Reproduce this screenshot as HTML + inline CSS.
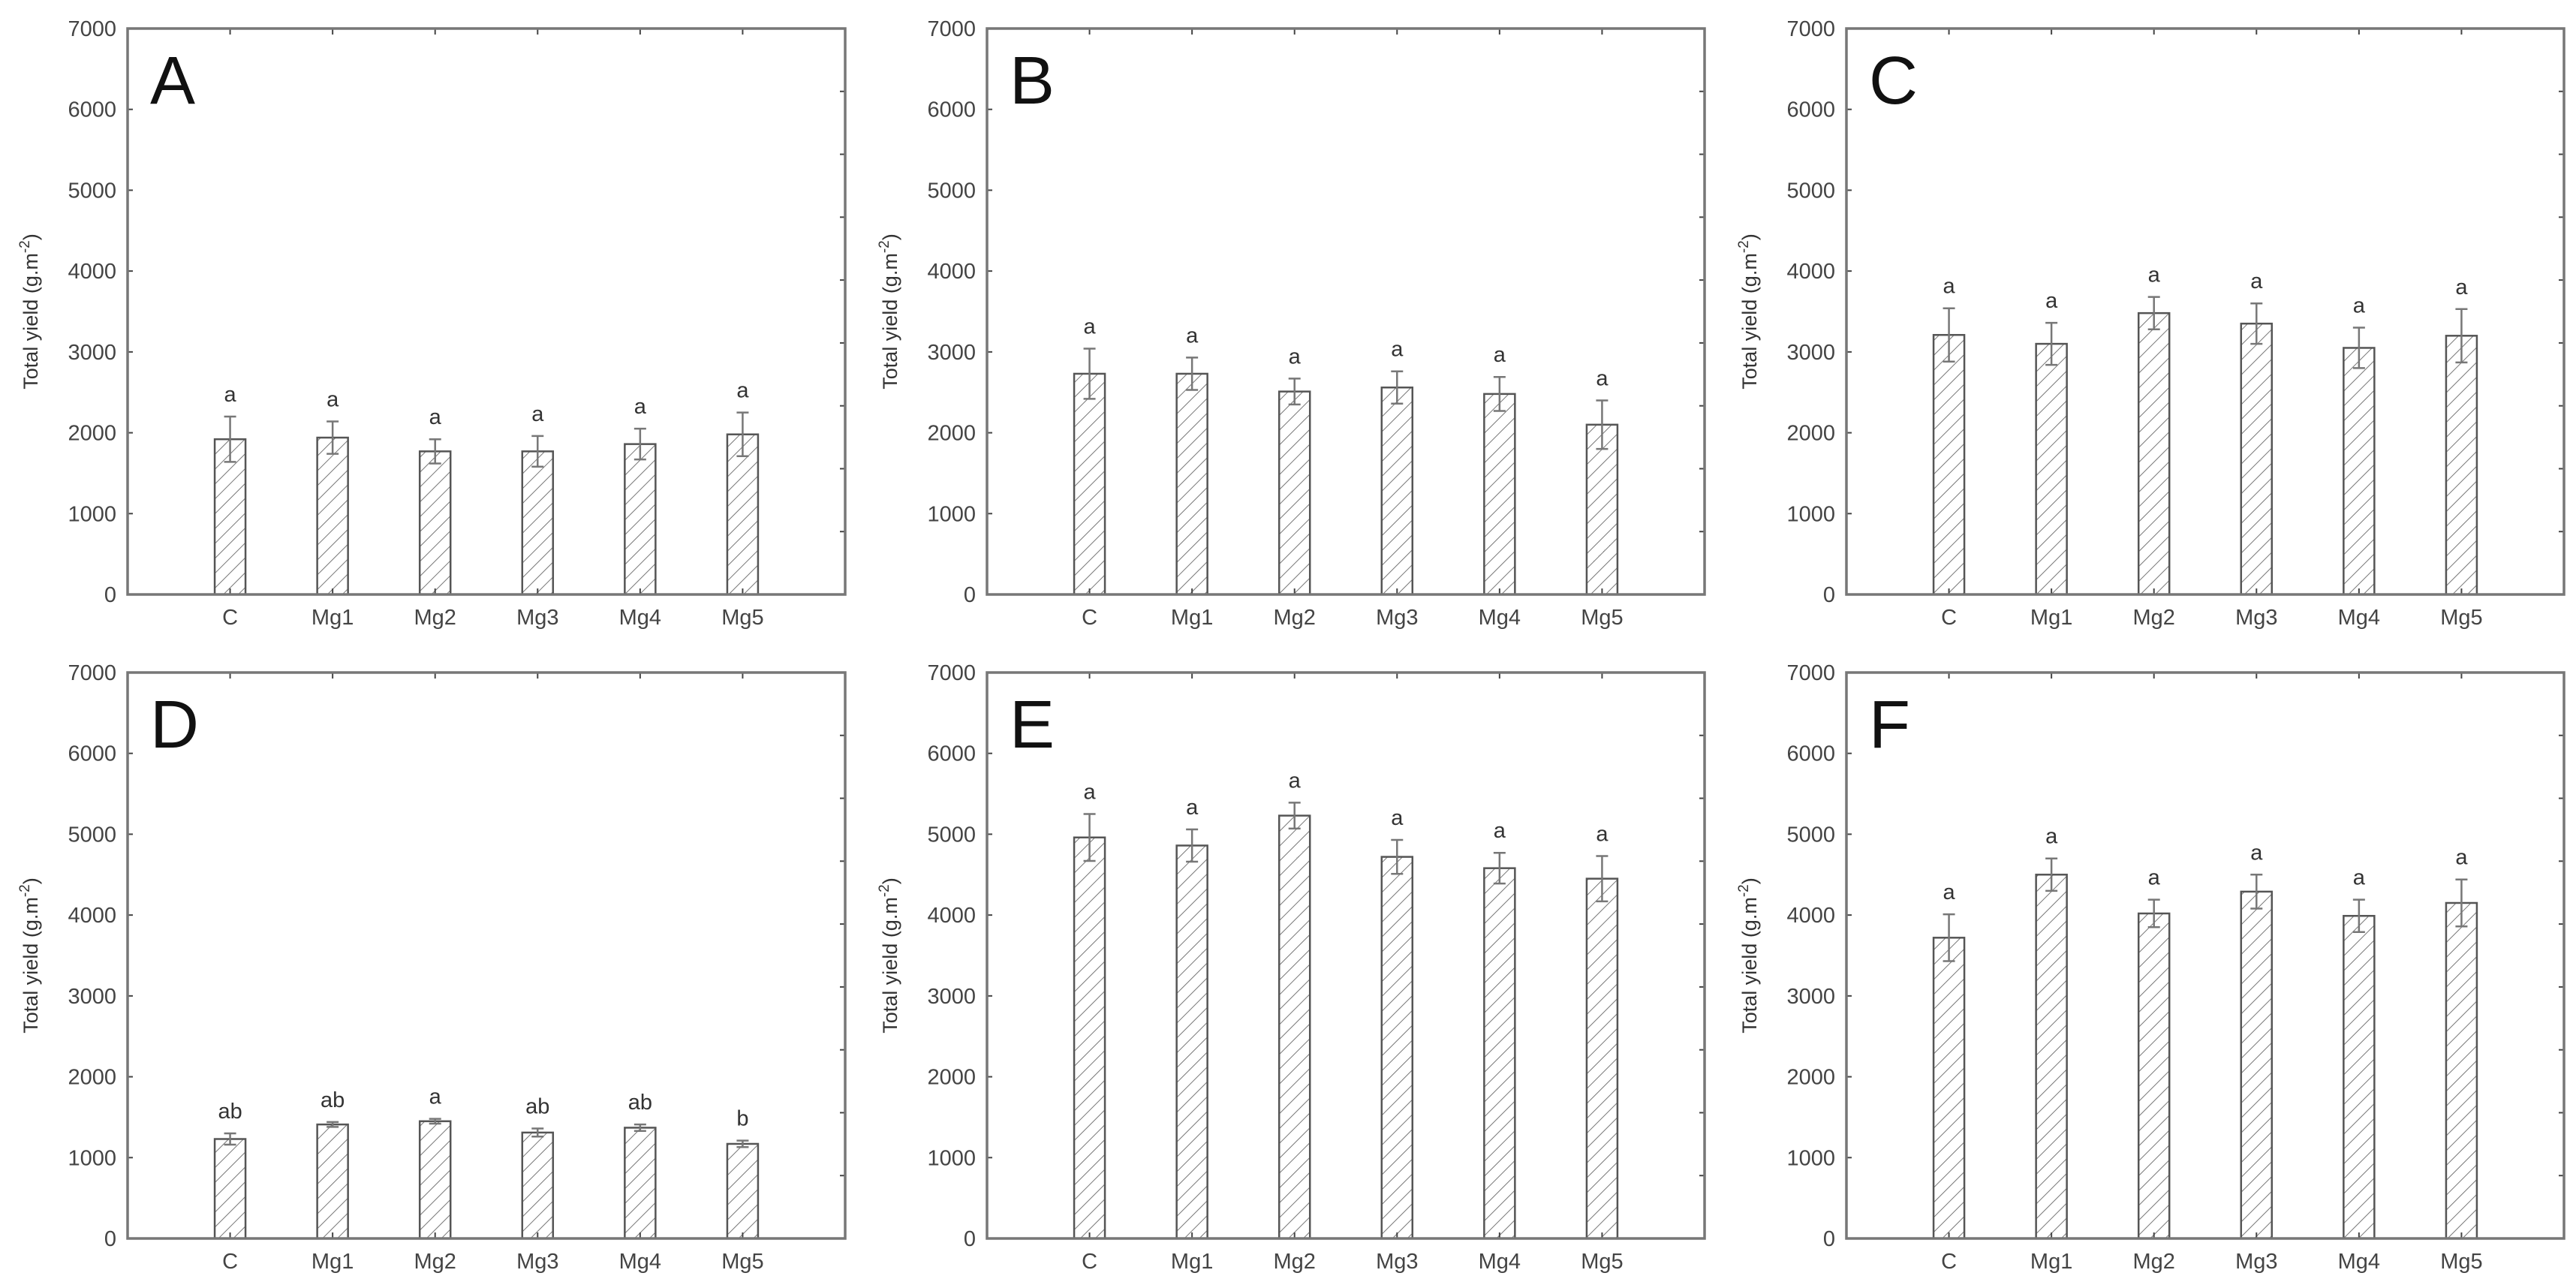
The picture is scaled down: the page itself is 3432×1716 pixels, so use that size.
<!DOCTYPE html>
<html><head><meta charset="utf-8"><style>
html,body{margin:0;padding:0;background:#fff;}
svg{display:block;}
text{font-family:"Liberation Sans",Arial,sans-serif;}
</style></head><body>
<svg id="fig" width="3432" height="1716" viewBox="0 0 3432 1716" xmlns="http://www.w3.org/2000/svg">
<defs>
<pattern id="hatch" patternUnits="userSpaceOnUse" width="14" height="14" patternTransform="rotate(45)">
<line x1="0" y1="0" x2="0" y2="14" stroke="#777" stroke-width="2"/>
</pattern>
</defs>
</svg>
<script>
const categories = ["C","Mg1","Mg2","Mg3","Mg4","Mg5"];
const panelLabels = ["A","B","C","D","E","F"];
const yTicks = [0,1000,2000,3000,4000,5000,6000,7000];
const valuesA = [1920,1940,1770,1770,1860,1980];
const errorsA = [280,200,150,190,190,270];
const lettersA = ["a","a","a","a","a","a"];
const valuesB = [2730,2730,2510,2560,2480,2100];
const errorsB = [310,200,160,200,210,300];
const lettersB = ["a","a","a","a","a","a"];
const valuesC = [3210,3100,3480,3350,3050,3200];
const errorsC = [330,260,200,250,250,330];
const lettersC = ["a","a","a","a","a","a"];
const valuesD = [1230,1410,1450,1310,1370,1170];
const errorsD = [70,30,30,50,40,40];
const lettersD = ["ab","ab","a","ab","ab","b"];
const valuesE = [4960,4860,5230,4720,4580,4450];
const errorsE = [290,200,160,210,190,280];
const lettersE = ["a","a","a","a","a","a"];
const valuesF = [3720,4500,4020,4290,3990,4150];
const errorsF = [290,200,170,210,200,290];
const lettersF = ["a","a","a","a","a","a"];
const yMax = 7000;

const panelValues = [valuesA,valuesB,valuesC,valuesD,valuesE,valuesF];
const panelErrors = [errorsA,errorsB,errorsC,errorsD,errorsE,errorsF];
const panelLetters = [lettersA,lettersB,lettersC,lettersD,lettersE,lettersF];

const svg = document.getElementById('fig');
const NS = 'http://www.w3.org/2000/svg';
function mk(tag, attrs, parent){
  const e = document.createElementNS(NS, tag);
  for (const k in attrs) e.setAttribute(k, attrs[k]);
  parent.appendChild(e);
  return e;
}
function txt(s, attrs, parent){ const t = mk('text', attrs, parent); t.textContent = s; return t; }

for (let p = 0; p < 6; p++) {
  const col = p % 3, row = Math.floor(p / 3);
  const L = 170 + col * 1145, R = L + 956;
  const T = row === 0 ? 38 : 896, B = T + 754;
  const xS = i => L + (i + 1) * (R - L) / 7;
  const yS = v => B - v / yMax * (B - T);
  const g = mk('g', {}, svg);
  
  

  // bars
  const vals = panelValues[p], errs = panelErrors[p], lets = panelLetters[p];
  for (let i = 0; i < categories.length; i++) {
    const cx = xS(i), y = yS(vals[i]);
    const bar = mk('rect', {x: cx - 20.5, y: y, width: 41, height: B - y, fill: 'url(#hatch)', stroke: '#555', 'stroke-width': 2.5}, g);
    
    
    const yt = yS(vals[i] + errs[i]), yb = yS(vals[i] - errs[i]);
    const eb = mk('path', {d: `M${cx},${yt}V${yb}M${cx-8},${yt}H${cx+8}M${cx-8},${yb}H${cx+8}`, stroke: '#777', 'stroke-width': 2.5, fill: 'none'}, g);
    
    
    const lt = txt(lets[i], {x: cx, y: yt - 20, 'font-size': 29, 'text-anchor': 'middle', fill: '#333'}, g);
    
    
    const cl = txt(categories[i], {x: cx, y: B + 40, 'font-size': 29, 'text-anchor': 'middle', fill: '#444'}, g);
    
    
    mk('line', {x1: cx, y1: T, x2: cx, y2: T + 8, stroke: '#444', 'stroke-width': 2}, g);
    mk('line', {x1: cx, y1: B, x2: cx, y2: B - 8, stroke: '#444', 'stroke-width': 2}, g);
  }
  // y ticks
  for (const t of yTicks) {
    const y = yS(t);
    mk('line', {x1: L, y1: y, x2: L + 7, y2: y, stroke: '#444', 'stroke-width': 2}, g);
    const tl = txt(String(t), {x: L - 15, y: y + 10, 'font-size': 29, 'text-anchor': 'end', fill: '#444'}, g);
    
    
  }
  for (let k = 1; k < 9; k++) {
    const y = T + k * (B - T) / 9;
    mk('line', {x1: R, y1: y, x2: R - 7, y2: y, stroke: '#444', 'stroke-width': 2}, g);
  }
  const fr = mk('rect', {x: L, y: T, width: R - L, height: B - T, fill: 'none', stroke: '#777', 'stroke-width': 3.5}, g);
  
  
  const pl = txt(panelLabels[p], {x: L + 30, y: T + 100, 'font-size': 90, fill: '#111'}, g);
  
  
  const yc = (T + B) / 2, xt = L - 120;
  const yt = mk('text', {x: xt, y: yc, 'font-size': 27, 'text-anchor': 'middle', fill: '#333', transform: `rotate(-90 ${xt} ${yc})`}, g);
  
  
  yt.appendChild(document.createTextNode('Total yield (g.m'));
  const sup = mk('tspan', {dy: -11, 'font-size': 19}, yt);
  sup.textContent = '-2';
  const cl2 = mk('tspan', {dy: 11}, yt);
  cl2.textContent = ')';
}
</script>
</body></html>
